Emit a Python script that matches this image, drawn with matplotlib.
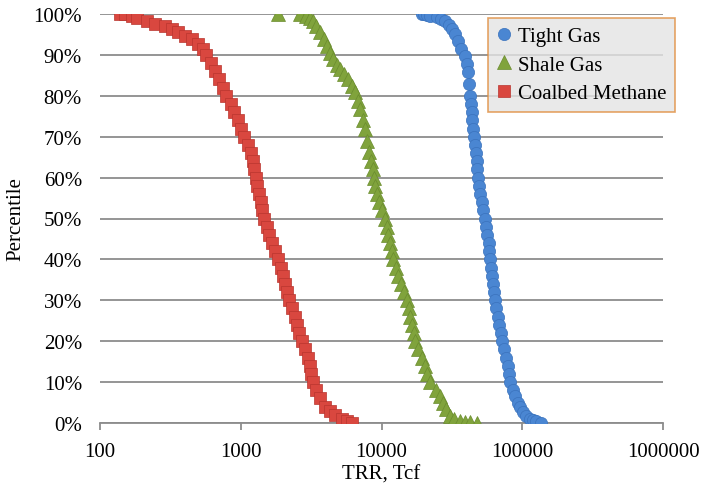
import matplotlib
matplotlib.use("Agg")
import matplotlib.pyplot as plt
from matplotlib.ticker import FixedLocator, FuncFormatter, NullLocator

# ---- data ----
tight_pct = [100, 100, 99.7, 99.5, 99.3, 98.8, 98.3, 97.3, 96.3, 95, 93.4, 91.5, 89.7, 87.8,
             85.8, 83, 80, 78, 76, 74, 72, 70, 68, 66, 64, 62, 60, 58, 56, 54, 52, 50,
             48, 46, 44, 42, 40, 38, 36, 34, 32, 30, 28, 26, 24, 22, 20, 18, 16, 14, 12,
             10, 8, 6.6, 5, 4, 2.7, 1.8, 1, 0.7, 0.5, 0]
tight_trr = [19450, 20100, 21000, 22150, 24830, 26500, 28300, 30000, 31750, 33300, 35000,
             37000, 39260, 40300, 41220, 41800, 42500, 43000, 43600, 44300, 44900, 45500,
             46000, 46700, 47400, 48000, 48700, 49600, 50400, 51500, 53000, 54470, 55500,
             56600, 57600, 58400, 59130, 60100, 61100, 62100, 63100, 64150, 65600, 67100,
             68700, 70300, 71920, 74300, 76900, 78900, 80500, 82100, 85500, 89200, 93000,
             96500, 101500, 107000, 113700, 120000, 126000, 136000]

shale_pct = [100, 100, 99.5, 99, 98.3, 97, 95.6, 94, 92.2, 90.5, 89, 87.5, 86.5, 85.3, 84.1,
             82.5, 80.9, 78.8, 76.8, 74, 71.9, 69, 66.3, 64, 62, 60, 58, 56, 54, 52, 50,
             48, 46, 44, 42, 40, 38, 36, 34, 32, 30, 28, 26, 24, 22, 20, 18, 16, 14, 12,
             10, 8, 6.6, 5, 3.5, 1.7, 1, 0.5, 0.3, 0.2, 0]
shale_trr = [1841, 2640, 2900, 3100, 3264, 3450, 3662, 3880, 4106, 4320, 4529, 4800, 5080,
             5400, 5792, 6130, 6492, 6760, 7044, 7330, 7640, 7900, 8161, 8450, 8650, 8860,
             9060, 9300, 9600, 10050, 10600, 10900, 11200, 11500, 11800, 12090, 12600,
             13200, 13800, 14500, 15200, 15600, 16000, 16500, 16900, 17330, 18300, 19300,
             20300, 21200, 22140, 24300, 26080, 27500, 28900, 30730, 33000, 36200, 39500,
             42640, 47860]

cbm_pct = [100, 100, 99.5, 99, 98.3, 97.6, 97.1, 96.3, 95.6, 94.6, 93.9, 92.7, 91.4, 90, 88,
           86, 84, 82, 80, 78, 76, 74, 72, 70, 68, 66, 64, 62, 60, 58, 56, 54, 52, 50, 48,
           46, 44, 42, 40, 38, 36, 34, 32, 30, 28, 26, 24, 22, 20, 18, 16, 14, 12, 10, 8,
           6, 4, 3, 2, 1, 0.5, 0]
cbm_trr = [139, 150, 170, 183, 216, 246, 290, 325, 358, 402, 451, 497, 540, 570, 610, 652,
           697, 742, 790, 852, 900, 950, 1000, 1060, 1120, 1180, 1225, 1250, 1280, 1310,
           1350, 1390, 1420, 1460, 1530, 1600, 1670, 1740, 1830, 1920, 2000, 2070, 2140,
           2220, 2320, 2420, 2510, 2600, 2740, 2870, 2990, 3090, 3180, 3270, 3450, 3650,
           3950, 4300, 4700, 5200, 5700, 6150]

series_names = ["Tight Gas", "Shale Gas", "Coalbed Methane"]
x_ticks = [100, 1000, 10000, 100000, 1000000]
y_ticks = [0, 10, 20, 30, 40, 50, 60, 70, 80, 90, 100]

# ---- figure ----
plt.rcParams['font.family'] = ['Liberation Serif', 'DejaVu Serif']
fig = plt.figure(figsize=(7.04, 4.85), dpi=100)
ax = fig.add_axes([100 / 704, 1 - 424 / 485, (663 - 100) / 704, (424 - 15) / 485])

grid_col = '#8C8C8C'
ax.plot(tight_trr, tight_pct, linestyle='none', marker='o', markersize=8.8,
        markerfacecolor='#4A86D2', markeredgecolor='#3A72BC', markeredgewidth=0.5,
        label=series_names[0], zorder=3)
ax.plot(shale_trr, shale_pct, linestyle='none', marker='^', markersize=9.5,
        markerfacecolor='#80A33C', markeredgecolor='#6A8C2E', markeredgewidth=0.5,
        label=series_names[1], zorder=3)
ax.plot(cbm_trr, cbm_pct, linestyle='none', marker='s', markersize=8,
        markerfacecolor='#D9473F', markeredgecolor='#B8352F', markeredgewidth=0.5,
        label=series_names[2], zorder=3)

ax.set_xscale('log')
ax.set_xlim(100, 1000000)
ax.set_ylim(0, 100)
ax.xaxis.set_major_locator(FixedLocator(x_ticks))
ax.xaxis.set_minor_locator(NullLocator())
ax.xaxis.set_major_formatter(FuncFormatter(lambda v, p: f"{int(round(v))}"))
ax.yaxis.set_major_locator(FixedLocator(y_ticks))
ax.yaxis.set_major_formatter(FuncFormatter(lambda v, p: f"{int(round(v))}%"))

for s in ['left', 'right', 'top']:
    ax.spines[s].set_visible(False)
ax.spines['bottom'].set_color(grid_col)
ax.spines['bottom'].set_linewidth(1.3)
ax.yaxis.grid(True, color=grid_col, linewidth=1.3)
ax.set_axisbelow(True)

ax.tick_params(axis='x', direction='out', length=5, width=1.3, color=grid_col,
               labelsize=15, pad=9)
ax.tick_params(axis='y', length=0, labelsize=15, pad=13)

ax.set_xlabel("TRR, Tcf", fontsize=15, labelpad=2)
ax.set_ylabel("Percentile", fontsize=15, labelpad=6)

leg = fig.legend(loc='upper left', bbox_to_anchor=(488 / 704, 1 - 19 / 485),
                 bbox_transform=fig.transFigure, fontsize=15, frameon=True,
                 fancybox=False, handlelength=0.7, handletextpad=0.3,
                 labelspacing=0.42, borderpad=0.42, borderaxespad=0)
frame = leg.get_frame()
frame.set_facecolor('#E4E4E4')
frame.set_edgecolor('#E08E3F')
frame.set_linewidth(1.2)

fig.savefig("out.png", dpi=100)
